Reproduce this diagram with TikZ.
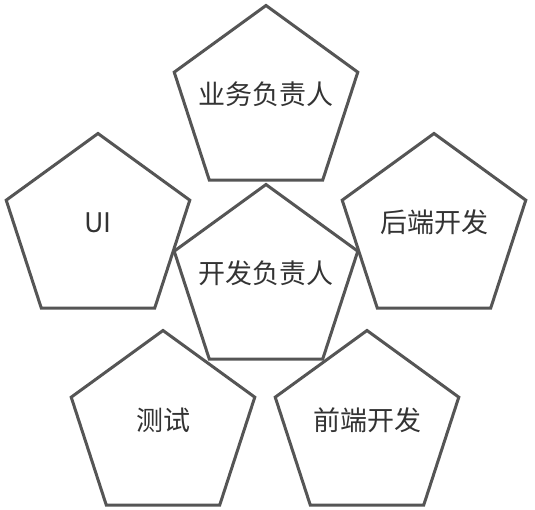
\documentclass[tikz,border=0pt]{standalone}
\usepackage{fontspec}
\setmainfont{Noto Sans CJK SC}
\usetikzlibrary{shapes.geometric}
\newcommand{\roletext}[1]{\makebox[0pt]{\smash{\raisebox{-3pt}{#1}}}}
\tikzset{
  role/.style={regular polygon, regular polygon sides=5, draw=penta,
    line width=3pt, minimum size=193pt, inner sep=0pt,
    font=\fontsize{27}{31}\selectfont, text=txt},
}
\definecolor{penta}{HTML}{555555}
\definecolor{txt}{HTML}{333333}
\begin{document}
\begin{tikzpicture}[x=1pt, y=-1pt]
  \useasboundingbox (0,0) rectangle (535,510);
  % roles
  \node [role] (biz) at (266,102) {\roletext{业务负责人}};
  \node [role] (ui) at (98,230) {\roletext{UI}};
  \node [role] (backend) at (434,230) {\roletext{后端开发}};
  \node [role] (lead) at (266,281) {\roletext{开发负责人}};
  \node [role] (test) at (163,427) {\roletext{测试}};
  \node [role] (frontend) at (367,427) {\roletext{前端开发}};
\end{tikzpicture}
\end{document}
